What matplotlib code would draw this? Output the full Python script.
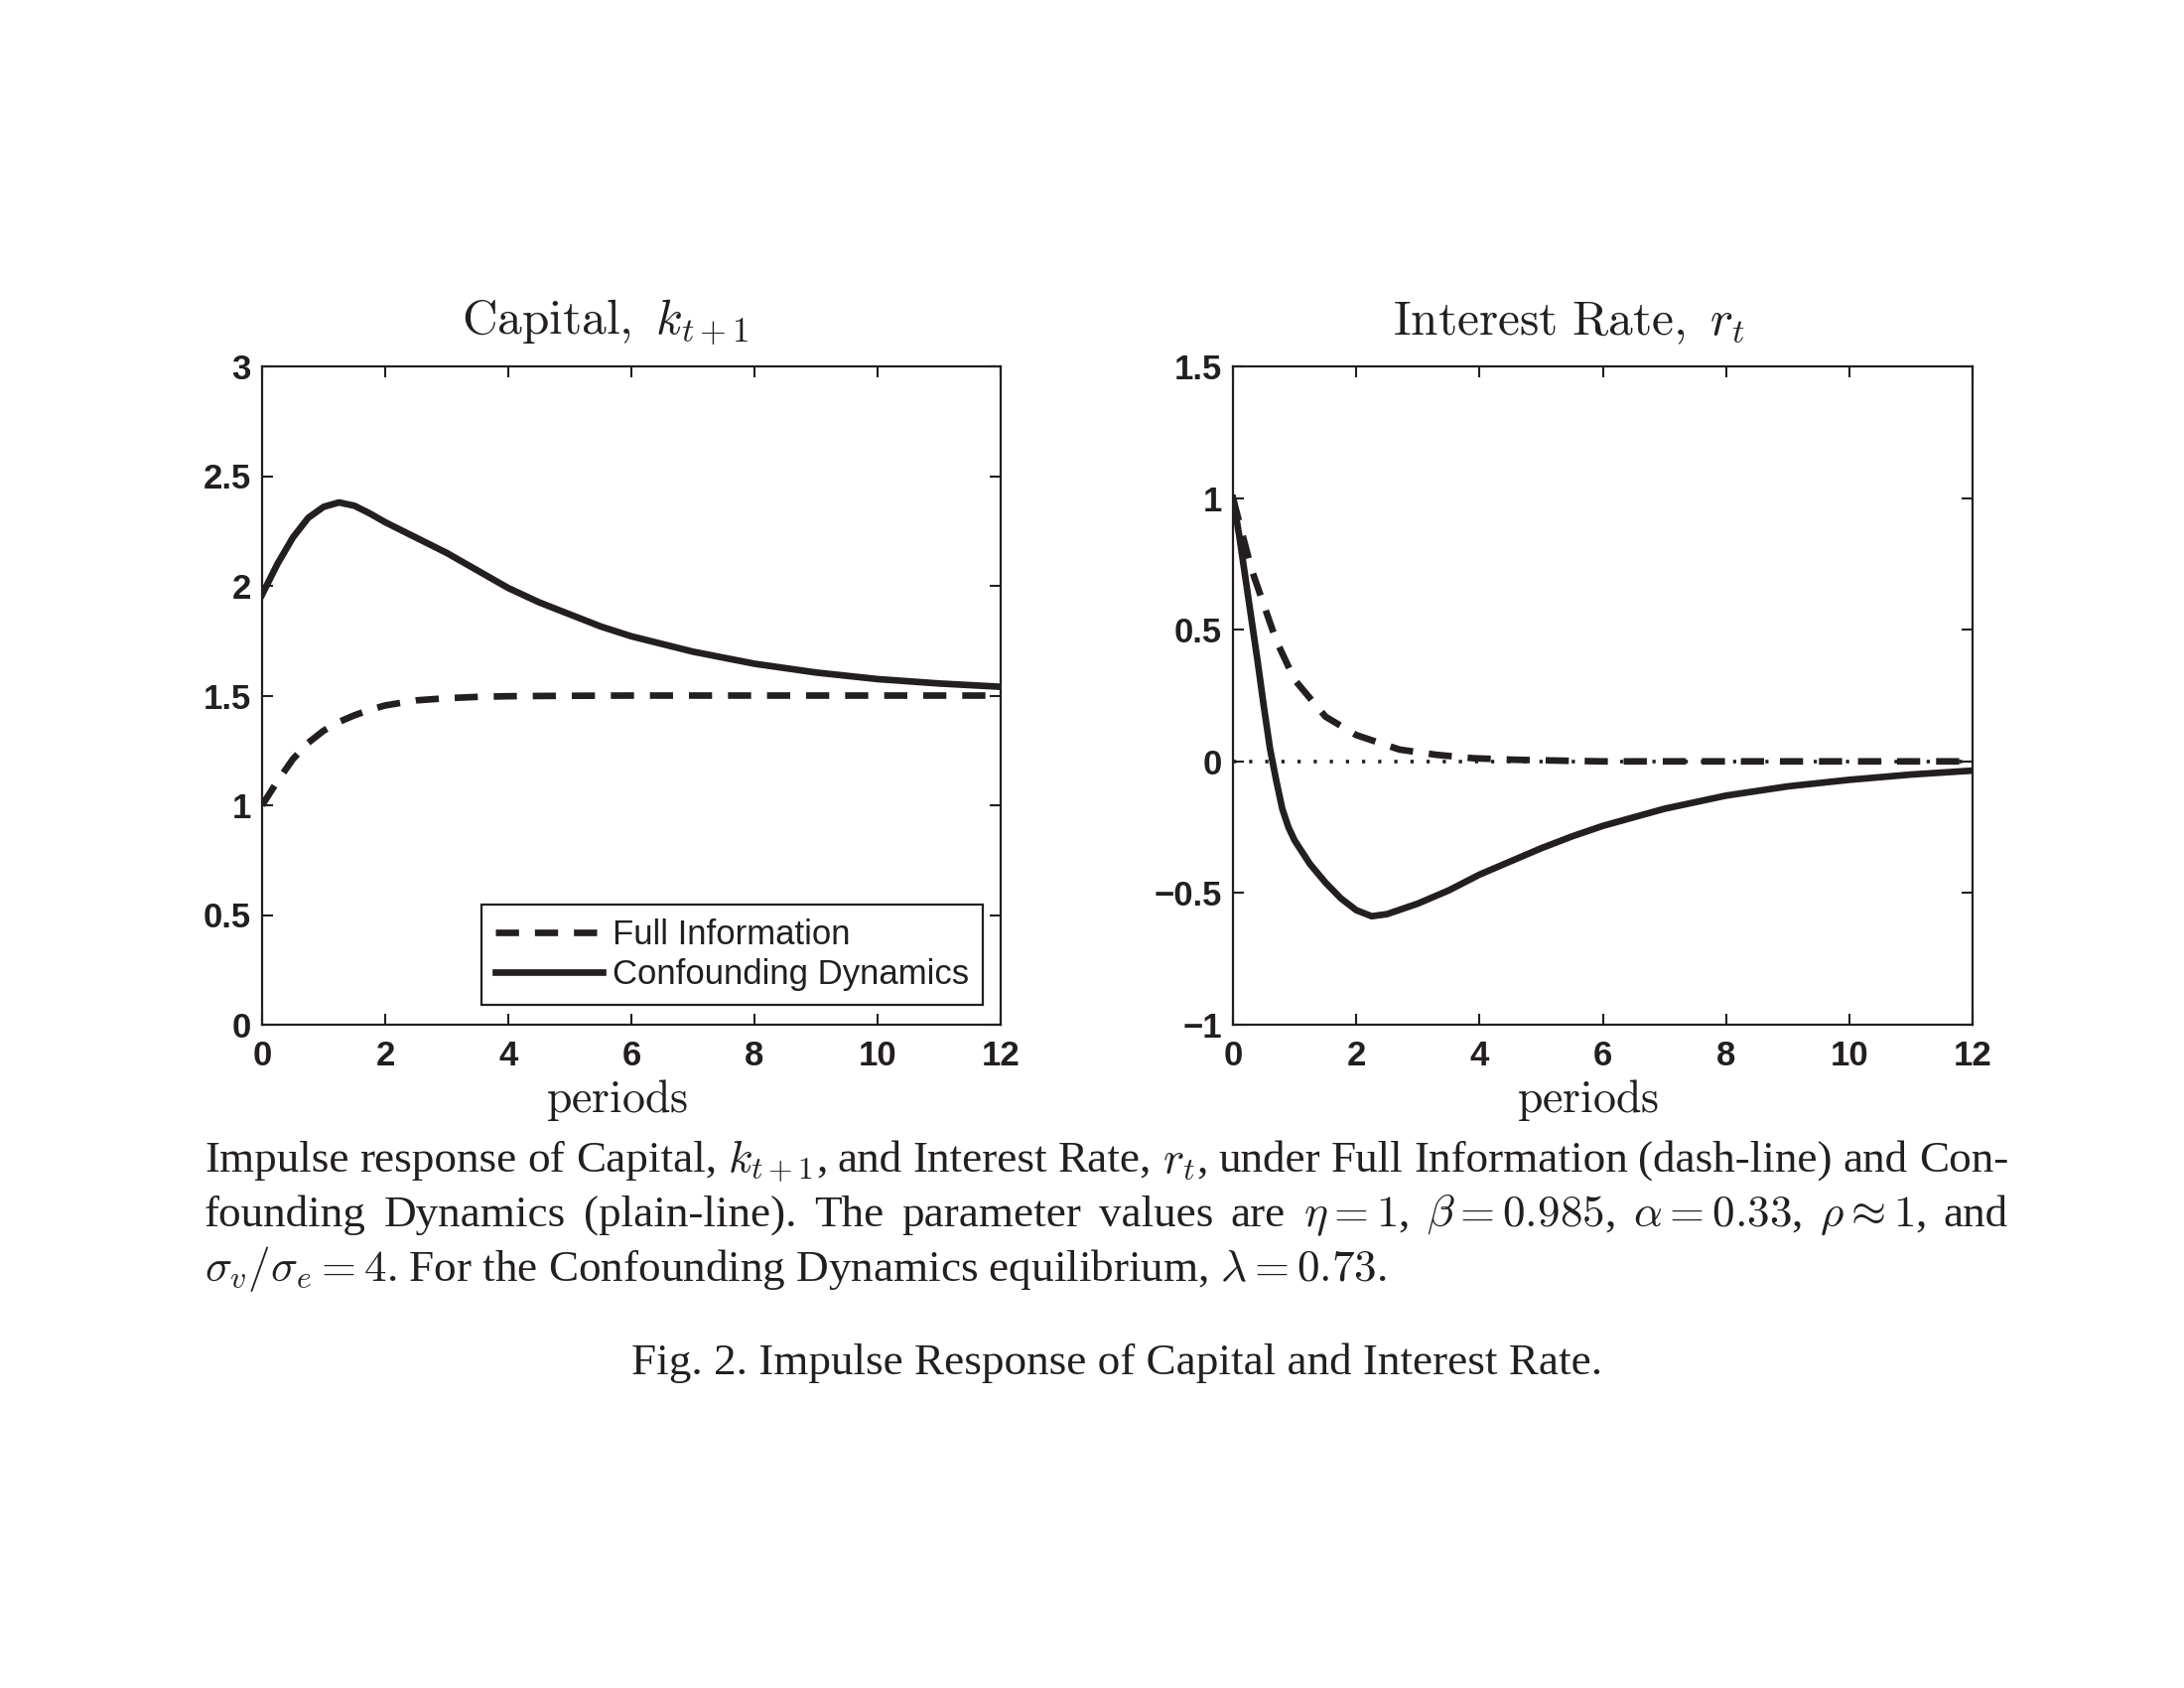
import numpy as np
import matplotlib
matplotlib.use("Agg")
import matplotlib.pyplot as plt

# ── Data ─────────────────────────────────────────────────────────────────────
k_full_t = [0, 0.25, 0.5, 0.75, 1.0, 1.25, 1.5, 1.75, 2.0, 2.5, 3.0, 3.5, 4.0, 5.0, 6.0, 8.0, 10.0, 12.0]
k_full   = [1.0, 1.11, 1.21, 1.285, 1.34, 1.38, 1.41, 1.435, 1.455, 1.478, 1.488, 1.494, 1.497, 1.499, 1.5, 1.5, 1.5, 1.5]

k_conf_t = [0, 0.25, 0.5, 0.75, 1.0, 1.25, 1.5, 1.75, 2.0, 2.5, 3.0, 3.5, 4.0, 4.5, 5.0, 5.5, 6.0, 7.0, 8.0, 9.0, 10.0, 11.0, 12.0]
k_conf   = [1.96, 2.10, 2.22, 2.31, 2.36, 2.38, 2.365, 2.33, 2.29, 2.22, 2.15, 2.07, 1.99, 1.925, 1.87, 1.815, 1.77, 1.70, 1.645, 1.605, 1.575, 1.555, 1.54]

r_full_t = [0, 0.3, 0.7, 1.0, 1.5, 2.0, 2.7, 3.3, 3.9, 4.6, 5.5, 6.0, 8.0, 10.0, 12.0]
r_full   = [1.0, 0.73, 0.46, 0.31, 0.17, 0.10, 0.045, 0.025, 0.012, 0.006, 0.002, 0.0, 0.0, 0.0, 0.0]

r_conf_t = [0, 0.1, 0.2, 0.3, 0.4, 0.5, 0.6, 0.7, 0.8, 0.9, 1.0, 1.25, 1.5, 1.75, 2.0, 2.25, 2.5, 3.0, 3.5, 4.0, 4.5, 5.0, 5.5, 6.0, 7.0, 8.0, 9.0, 10.0, 11.0, 12.0]
r_conf   = [1.0, 0.86, 0.70, 0.54, 0.38, 0.21, 0.05, -0.07, -0.18, -0.25, -0.30, -0.39, -0.46, -0.52, -0.565, -0.588, -0.58, -0.54, -0.49, -0.43, -0.38, -0.33, -0.285, -0.245, -0.18, -0.13, -0.095, -0.07, -0.05, -0.035]

x_ticks   = [0, 2, 4, 6, 8, 10, 12]
k_yticks  = [0, 0.5, 1, 1.5, 2, 2.5, 3]
k_ylabels = ['0', '0.5', '1', '1.5', '2', '2.5', '3']
r_yticks  = [-1, -0.5, 0, 0.5, 1, 1.5]
r_ylabels = ['\u22121', '\u22120.5', '0', '0.5', '1', '1.5']

title_k = r'$\mathrm{Capital,}\ k_{t+1}$'
title_r = r'$\mathrm{Interest\ Rate,}\ r_t$'
xlabel  = r'$\mathrm{periods}$'

caption_lines = [
    r"Impulse response of Capital, $k_{t+1}$, and Interest Rate, $r_t$, under Full Information (dash-line) and Con-",
    r"founding Dynamics (plain-line). The parameter values are $\eta=1$, $\beta=0.985$, $\alpha=0.33$, $\rho\approx1$, and",
    r"$\sigma_v/\sigma_e=4$. For the Confounding Dynamics equilibrium, $\lambda=0.73$.",
]
fig_caption = "Fig. 2. Impulse Response of Capital and Interest Rate."

# ── Style ─────────────────────────────────────────────────────────────────────
INK = '#231f20'
plt.rcParams['font.family'] = ['Liberation Sans', 'DejaVu Sans']
plt.rcParams['mathtext.fontset'] = 'cm'

W, H = 2200, 1700
fig = plt.figure(figsize=(W / 100, H / 100), dpi=100)

def px_box(x0, x1, y_top, y_bot):
    return [x0 / W, 1 - y_bot / H, (x1 - x0) / W, (y_bot - y_top) / H]

ax_k = fig.add_axes(px_box(264, 1008, 369, 1032))
ax_r = fig.add_axes(px_box(1242, 1987, 369, 1032))

lw = 4.8
dash = (3.5, 2.4)

# Panel 1: capital
ax_k.plot(k_full_t, k_full, color=INK, lw=lw, ls='--', dashes=dash,
          label='Full Information')
ax_k.plot(k_conf_t, k_conf, color=INK, lw=lw, ls='-',
          label='Confounding Dynamics')
ax_k.set_ylim(0, 3)
ax_k.set_yticks(k_yticks)
ax_k.set_yticklabels(k_ylabels)
leg = ax_k.legend(loc='lower right', bbox_to_anchor=(0.9758, 0.030),
                  borderaxespad=0, fontsize=25, handlelength=3.1,
                  fancybox=False, framealpha=1, edgecolor=INK,
                  borderpad=0.4, labelspacing=0.2, handletextpad=0.3)
leg.get_frame().set_linewidth(1.6)
for t in leg.get_texts():
    t.set_color(INK)

# Panel 2: interest rate (dotted zero line underneath)
ax_r.plot([0, 12], [0, 0], color=INK, lw=2.6, ls=(0, (0.9, 3.6)))
ax_r.plot(r_full_t, r_full, color=INK, lw=lw, ls='--', dashes=dash)
ax_r.plot(r_conf_t, r_conf, color=INK, lw=lw, ls='-')
ax_r.set_ylim(-1, 1.5)
ax_r.set_yticks(r_yticks)
ax_r.set_yticklabels(r_ylabels)

for ax in (ax_k, ax_r):
    ax.set_xlim(0, 12)
    ax.set_xticks(x_ticks)
    ax.tick_params(direction='in', length=8, width=1.5, top=True, right=True,
                   labelsize=25, colors=INK)
    ax.tick_params(axis='x', pad=11)
    ax.tick_params(axis='y', pad=8)
    for lab in ax.get_xticklabels() + ax.get_yticklabels():
        lab.set_fontweight('bold')
    for s in ax.spines.values():
        s.set_linewidth(1.6)
        s.set_color(INK)

# titles and axis labels (MATLAB/LaTeX places them slightly left of centre)
cm_kw = dict(math_fontfamily='cm', color=INK, ha='center', va='baseline')
fig.text(610 / W, 1 - 337 / H, title_k, fontsize=35.5, **cm_kw)
fig.text(1580 / W, 1 - 337 / H, title_r, fontsize=35.5, **cm_kw)
fig.text(622 / W, 1 - 1120 / H, xlabel, fontsize=33, **cm_kw)
fig.text(1600 / W, 1 - 1120 / H, xlabel, fontsize=33, **cm_kw)

# ── Caption (first two lines justified) ──────────────────────────────────────
renderer = fig.canvas.get_renderer()
x_left, x_right = 206, 2023
cap_kw = dict(family=['Liberation Serif', 'DejaVu Serif'], fontsize=32.5,
              color=INK, va='baseline', ha='left', math_fontfamily='cm')


def justified(line, y_px):
    words = line.split(' ')
    texts = [fig.text(0, 1 - y_px / H, w, **cap_kw) for w in words]
    widths = [t.get_window_extent(renderer).width for t in texts]
    gap = (x_right - x_left - sum(widths)) / (len(words) - 1)
    x = x_left
    for t, w in zip(texts, widths):
        t.set_x(x / W)
        x += w + gap


justified(caption_lines[0], 1180)
justified(caption_lines[1], 1235)
fig.text(x_left / W, 1 - 1290 / H, caption_lines[2], **cap_kw)

fig.text(1125 / W, 1 - 1384 / H, fig_caption,
         family=['Liberation Serif', 'DejaVu Serif'], fontsize=32.5,
         color=INK, ha='center', va='baseline')

fig.savefig('out.png', dpi=100)
